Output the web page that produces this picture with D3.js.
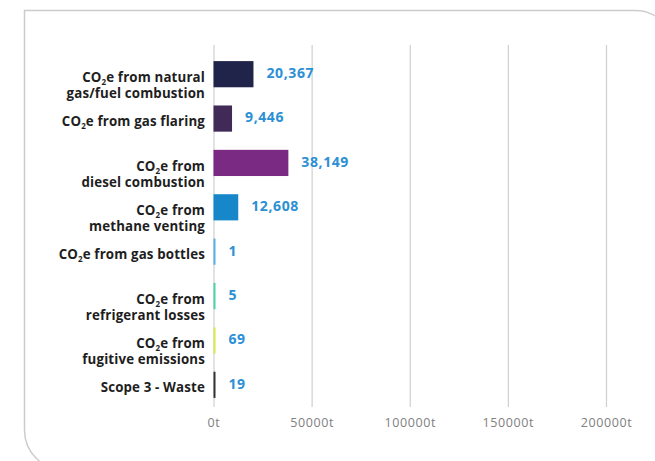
<!DOCTYPE html>
<html>
<head>
<meta charset="utf-8">
<script src="https://cdn.jsdelivr.net/npm/d3@7"></script>
<style>
    body { margin: 0; background: #fff; }
    svg { display: block; }
    .cat { font-family: "Open Sans", sans-serif; font-weight: 700; font-size: 13.3px; letter-spacing: 0.15px; fill: #1e1e1e; }
    .val { font-family: "Open Sans", sans-serif; font-weight: 700; font-size: 14px; letter-spacing: 0.6px; fill: #2b90d4; }
    .x.axis text { font-family: "Open Sans", sans-serif; font-weight: 400; font-size: 12.5px; letter-spacing: 0.6px; fill: #808080; }
    .x.axis line { stroke: #cfcfcf; stroke-width: 1.2; }
</style>
</head>
<body>
<div id="chart"></div>
<script>
var categories = [
    "CO2e from natural gas/fuel combustion",
    "CO2e from gas flaring",
    "CO2e from diesel combustion",
    "CO2e from methane venting",
    "CO2e from gas bottles",
    "CO2e from refrigerant losses",
    "CO2e from fugitive emissions",
    "Scope 3 - Waste"
];
var labelLines = [
    ["CO2e from natural", "gas/fuel combustion"],
    ["CO2e from gas flaring"],
    ["CO2e from", "diesel combustion"],
    ["CO2e from", "methane venting"],
    ["CO2e from gas bottles"],
    ["CO2e from", "refrigerant losses"],
    ["CO2e from", "fugitive emissions"],
    ["Scope 3 - Waste"]
];
var values = [20367, 9446, 38149, 12608, 1, 5, 69, 19];
var barColors = ["#20244a", "#412a58", "#7a2a82", "#1787c9", "#5aaee6", "#4fd2a2", "#d9e84a", "#333333"];
var tickValues = [0, 50000, 100000, 150000, 200000];

var width = 655, height = 461;
var svg = d3.select("#chart").append("svg").attr("width", width).attr("height", height);

// card outline
svg.append("path")
    .attr("d", "M24.5,430 L24.5,10.5 L635,10.5 A40,40 0 0 1 675,50.5 M24.5,430 A40,40 0 0 0 64.5,470")
    .attr("fill", "none")
    .attr("stroke", "#cccccc")
    .attr("stroke-width", 1.5);

var x = d3.scaleLinear().domain([0, 200000]).range([213.5, 606]);
var y = d3.scaleBand().domain(categories).range([52, 407]).paddingInner(0.41).paddingOuter(0.205);

var xAxis = d3.axisBottom(x)
    .tickValues(tickValues)
    .tickSize(-(407 - 45))
    .tickPadding(11)
    .tickFormat(function(d) { return d + "t"; });

svg.append("g")
    .attr("class", "x axis")
    .attr("transform", "translate(0,407)")
    .call(xAxis)
    .call(function(g) { g.select(".domain").remove(); });

var data = categories.map(function(c, i) {
    return { name: c, value: values[i], color: barColors[i], lines: labelLines[i] };
});

// bars (tiny values get a minimum visible width)
svg.selectAll(".bar")
    .data(data)
    .enter().append("rect")
    .attr("class", "bar")
    .attr("x", x(0))
    .attr("y", function(d) { return y(d.name); })
    .attr("width", function(d) { return Math.max(2, x(d.value) - x(0)); })
    .attr("height", y.bandwidth())
    .attr("fill", function(d) { return d.color; });

// value labels
svg.selectAll(".val")
    .data(data)
    .enter().append("text")
    .attr("class", "val")
    .attr("x", function(d) { return x(0) + Math.max(2, x(d.value) - x(0)) + 13; })
    .attr("y", function(d) { return y(d.name) + y.bandwidth() / 2 - 1; })
    .attr("dy", "0.35em")
    .text(function(d) { return d3.format(",")(d.value); });

// category labels: one text per category, lines as tspans, subscript 2 via dy
data.forEach(function(d) {
    var cy = y(d.name) + y.bandwidth() / 2 + 3;
    var t = svg.append("text")
        .attr("class", "cat")
        .attr("text-anchor", "end");
    d.lines.forEach(function(line, j) {
        var ly = cy + j * 16 + 4.6;
        if (line.indexOf("CO2e") === 0) {
            t.append("tspan").attr("x", 205).attr("y", ly).text("CO");
            t.append("tspan").attr("font-size", "8px").attr("dy", 3).text("2");
            t.append("tspan").attr("dy", -3).text(line.slice(3));
        } else {
            t.append("tspan").attr("x", 205).attr("y", ly).text(line);
        }
    });
});
</script>
</body>
</html>
